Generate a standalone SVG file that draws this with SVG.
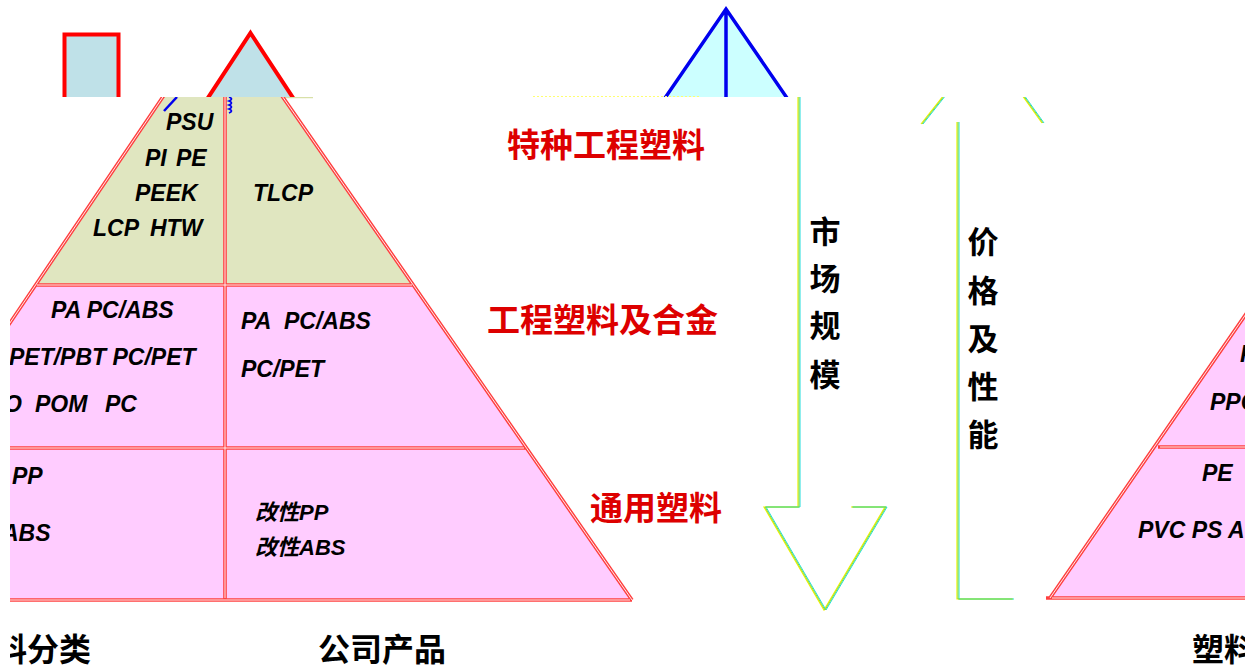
<svg xmlns="http://www.w3.org/2000/svg" xmlns:xlink="http://www.w3.org/1999/xlink" width="1255" height="670" viewBox="0 0 1255 670">
<style>
.lat{font-family:"Liberation Sans",Arial,"Noto Sans CJK SC",sans-serif;font-weight:bold;font-style:italic;font-size:23px;fill:#000}
.cjk{font-family:"Noto Sans CJK SC","Noto Sans CJK TC",sans-serif;font-weight:bold;fill:#000}
.red{fill:#dd0000;font-size:33px}
.cap{font-size:32px}
.vert{font-size:31px;text-anchor:middle}
.edge{stroke:#ff4040;stroke-width:3.6;fill:none}
.core{stroke:#ffffff;stroke-width:0.9;fill:none}
.ay{stroke:#eeee00;stroke-width:1.2;fill:none}
.ac{stroke:#20dcdc;stroke-width:1;fill:none}
.ag{stroke:#7fe040;stroke-width:1;fill:none}
</style>
<defs>
<clipPath id="main"><rect x="10" y="97" width="1235" height="573"/></clipPath>
<clipPath id="topband"><rect x="0" y="0" width="1255" height="97"/></clipPath>
<path id="downArrow" d="M799,97 V507 H765 L825,610 L886,507 H852"/>
<path id="upArrow" d="M958,122 V599 H1013 M922,124 L945,95 M1023,95 L1043,123"/>
</defs>
<rect width="1255" height="670" fill="#ffffff"/>

<g id="top-shapes" clip-path="url(#topband)">
  <g id="top-rect"><rect x="64.5" y="34.5" width="54" height="80" fill="#bfe1e8" stroke="#ff0000" stroke-width="4"/></g>
  <g id="top-red-triangle"><polygon points="250.5,33 303,113 198,113" fill="#bfe1e8" stroke="#ff0000" stroke-width="4" stroke-linejoin="miter"/></g>
  <g id="top-blue-triangle">
    <polygon points="726,9 787,98 665,98" fill="#ccffff"/>
    <path d="M665,98 L726,9 L787,98 M726,9 V98" stroke="#0000ee" stroke-width="3.5" fill="none" stroke-linejoin="miter"/>
  </g>
</g>
<line x1="533" y1="96.5" x2="700" y2="96.5" stroke="#ffff70" stroke-width="1" stroke-dasharray="2,2"/>

<g id="pyramid-left" clip-path="url(#main)">
  <polygon id="pl-shape" points="222,9.5 632,600 -177.5,600" fill="#ffccff"/>
  <polygon id="pl-top" points="222,9.5 413.5,285 35.7,285" fill="#e0e6c0"/>
  <line x1="283" y1="97.5" x2="313" y2="97.5" stroke="#d8e0a8" stroke-width="1.5"/>
  <g id="pl-lines">
    <path class="edge" d="M222,9.5 L-177.5,600 M222,9.5 L632,600 M-20,600 H632 M225,97 V600 M35.7,285 H413.5 M10,448 H526"/>
    <path class="core" d="M222,9.5 L-177.5,600 M222,9.5 L632,600 M-20,600 H630 M225,97 V598 M37,285 H412 M10,448 H524"/>
  </g>
  <path d="M164,111 L177,97" stroke="#0000ee" stroke-width="2.5" fill="none"/>
  <path d="M229,97 q5,2 0,4 q5,2 0,4 q5,2 0,4 q5,2 0,4" stroke="#0000ee" stroke-width="1.8" fill="none"/>
  <g id="pl-special-text">
    <text class="lat" x="166" y="130">PSU</text>
    <text class="lat" x="145" y="166"><tspan>PI</tspan><tspan x="176">PE</tspan></text>
    <text class="lat" x="135" y="201">PEEK</text>
    <text class="lat" x="93" y="236"><tspan>LCP</tspan><tspan x="150">HTW</tspan></text>
    <text class="lat" x="253" y="201">TLCP</text>
  </g>
  <g id="pl-eng-text">
    <text class="lat" x="51" y="318">PA PC/ABS</text>
    <text class="lat" x="9" y="365">PET/PBT PC/PET</text>
    <text class="lat" y="412"><tspan x="4">O </tspan><tspan x="35">POM </tspan><tspan x="105">PC</tspan></text>
    <text class="lat" x="241" y="329"><tspan>PA</tspan><tspan x="284">PC/ABS</tspan></text>
    <text class="lat" x="241" y="377">PC/PET</text>
  </g>
  <g id="pl-general-text">
    <text class="lat" x="12" y="484">PP</text>
    <text class="lat" x="2" y="541">ABS</text>
    <text class="lat" x="255" y="520" style="font-size:22px">改性PP</text>
    <text class="lat" x="255" y="555" style="font-size:22px">改性ABS</text>
  </g>
</g>

<g id="level-labels">
  <text class="cjk red" x="507" y="157">特种工程塑料</text>
  <text class="cjk red" x="487" y="332">工程塑料及合金</text>
  <text class="cjk red" x="590" y="520">通用塑料</text>
</g>

<g id="connectors" clip-path="url(#main)">
  <g id="arrow-market">
    <use xlink:href="#downArrow" class="ay" transform="translate(-1,0)"/>
    <use xlink:href="#downArrow" class="ac" transform="translate(1,0)"/>
    <use xlink:href="#downArrow" class="ag"/>
  </g>
  <g id="arrow-price">
    <use xlink:href="#upArrow" class="ay" transform="translate(-1,0)"/>
    <use xlink:href="#upArrow" class="ac" transform="translate(1,0)"/>
    <use xlink:href="#upArrow" class="ag"/>
  </g>
</g>

<g id="arrow-labels">
  <text class="cjk vert"><tspan x="825" y="243">市</tspan><tspan x="825" y="290">场</tspan><tspan x="825" y="337">规</tspan><tspan x="825" y="386">模</tspan></text>
  <text class="cjk vert"><tspan x="983" y="253">价</tspan><tspan x="983" y="302">格</tspan><tspan x="983" y="350">及</tspan><tspan x="983" y="398">性</tspan><tspan x="983" y="446">能</tspan></text>
</g>

<g id="pyramid-right" clip-path="url(#main)">
  <polygon points="1050,598 1313,217 1576,598" fill="#ffccff"/>
  <path class="edge" d="M1050,598 L1313,217 M1046,598 H1260 M1158,447 H1260"/>
  <path class="core" d="M1050,598 L1313,217 M1052,598 H1260 M1160,447 H1260"/>
  <text class="lat" x="1240" y="362">P</text>
  <text class="lat" x="1210" y="410">PPC</text>
  <text class="lat" x="1202" y="481">PE</text>
  <text class="lat" x="1138" y="538">PVC PS A</text>
</g>

<g id="captions" clip-path="url(#main)">
  <text class="cjk cap" x="91" y="661" text-anchor="end">料分类</text>
  <text class="cjk cap" x="318" y="661">公司产品</text>
  <text class="cjk cap" x="1192" y="661">塑料</text>
</g>
</svg>
